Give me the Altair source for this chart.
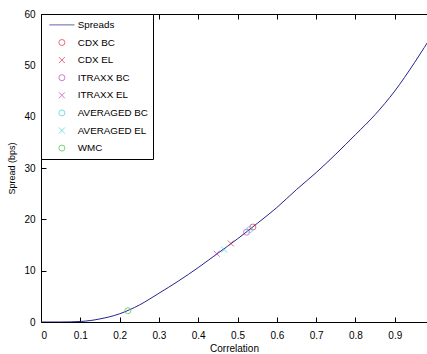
import altair as alt
import pandas as pd

# Spread curve
corr = [0.0, 0.05, 0.1, 0.15, 0.2, 0.25, 0.3, 0.35, 0.4, 0.45, 0.5, 0.55,
        0.6, 0.65, 0.7, 0.75, 0.8, 0.85, 0.9, 0.95, 1.0]
spread = [0.0, 0.0, 0.1, 0.6, 1.6, 3.3, 5.6, 8.0, 10.6, 13.4, 16.2, 19.2,
          22.3, 25.8, 29.1, 32.7, 36.5, 40.4, 45.0, 50.5, 56.5]

# Marker series
marker_names = ["CDX BC", "CDX EL", "ITRAXX BC", "ITRAXX EL",
                "AVERAGED BC", "AVERAGED EL", "WMC"]
marker_x = [0.539, 0.483, 0.523, 0.447, 0.531, 0.466, 0.221]
marker_y = [18.5, 15.3, 17.5, 13.3, 18.0, 14.1, 2.2]

series_order = ["Spreads"] + marker_names
series_colors = ["#24248c", "#d8304a", "#d8304a", "#c040c8", "#c040c8",
                 "#40d0d8", "#40d0d8", "#40c040"]
X_PATH = "M-1,-1L1,1M1,-1L-1,1"
LINE_PATH = "M-4.2,0L4.2,0"
series_shapes = [LINE_PATH, "circle", X_PATH, "circle", X_PATH,
                 "circle", X_PATH, "circle"]

x_ticks = [0, 0.1, 0.2, 0.3, 0.4, 0.5, 0.6, 0.7, 0.8, 0.9]
y_ticks = [0, 10, 20, 30, 40, 50, 60]

curve_df = pd.DataFrame({"corr": corr, "spread": spread,
                         "series": ["Spreads"] * len(corr)})
mk_df = pd.DataFrame({"corr": marker_x, "spread": marker_y,
                      "series": marker_names})

FONT = "Liberation Sans"
xscale = alt.Scale(domain=[0, 0.982], nice=False, zero=False)
yscale = alt.Scale(domain=[0, 60], nice=False)
cscale = alt.Scale(domain=series_order, range=series_colors)
sscale = alt.Scale(domain=series_order, range=series_shapes)

legend = alt.Legend(
    title=" ", titleFontSize=1, titlePadding=0,
    orient="none", legendX=0, legendY=0,
    strokeColor="black", fillColor="white", padding=5,
    labelFont=FONT, labelFontSize=9.8, labelColor="black",
    symbolSize=36, symbolStrokeWidth=1, symbolFillColor="transparent",
    rowPadding=6.6, labelOffset=11, symbolOffset=11, labelLimit=200,
    values=series_order,
)

x_axis = alt.Axis(values=x_ticks, title="Correlation", grid=False,
                  domainColor="black", tickColor="black",
                  tickSize={"expr": "-5"}, labelPadding=13,
                  labelFont=FONT, labelFontSize=10, labelColor="black",
                  titleFont=FONT, titleFontSize=10, titleFontWeight="normal",
                  titleColor="black", titlePadding=3, format="~g")
y_axis = alt.Axis(values=y_ticks, title="Spread (bps)", grid=False,
                  domainColor="black", tickColor="black",
                  tickSize={"expr": "-5"}, labelPadding=11,
                  labelFont=FONT, labelFontSize=10, labelColor="black",
                  titleFont=FONT, titleFontSize=9, titleFontWeight="normal",
                  titleColor="black", titlePadding=7)
x_top = alt.Axis(values=x_ticks, orient="top", title=None, labels=False,
                 grid=False, domainColor="black", tickColor="black",
                 tickSize={"expr": "-5"})

line = alt.Chart(curve_df).mark_line(strokeWidth=1, interpolate="monotone",
                                      clip=True).encode(
    x=alt.X("corr:Q", scale=xscale, axis=x_axis),
    y=alt.Y("spread:Q", scale=yscale, axis=y_axis),
    color=alt.Color("series:N", scale=cscale, legend=legend),
)

pts = alt.Chart(mk_df).mark_point(filled=False, size=36, strokeWidth=1).encode(
    x=alt.X("corr:Q", scale=xscale, axis=x_top),
    y=alt.Y("spread:Q", scale=yscale),
    color=alt.Color("series:N", scale=cscale, legend=legend),
    shape=alt.Shape("series:N", scale=sscale, legend=legend),
)

chart = alt.layer(line, pts).resolve_axis(x="independent").properties(
    width=386, height=308,
    padding={"left": 41, "top": 14, "right": 0, "bottom": 32},
    autosize="none",
).configure_view(stroke=None).configure(background="white")

chart.save("out.html", embed_options={"renderer": "svg", "actions": False})
